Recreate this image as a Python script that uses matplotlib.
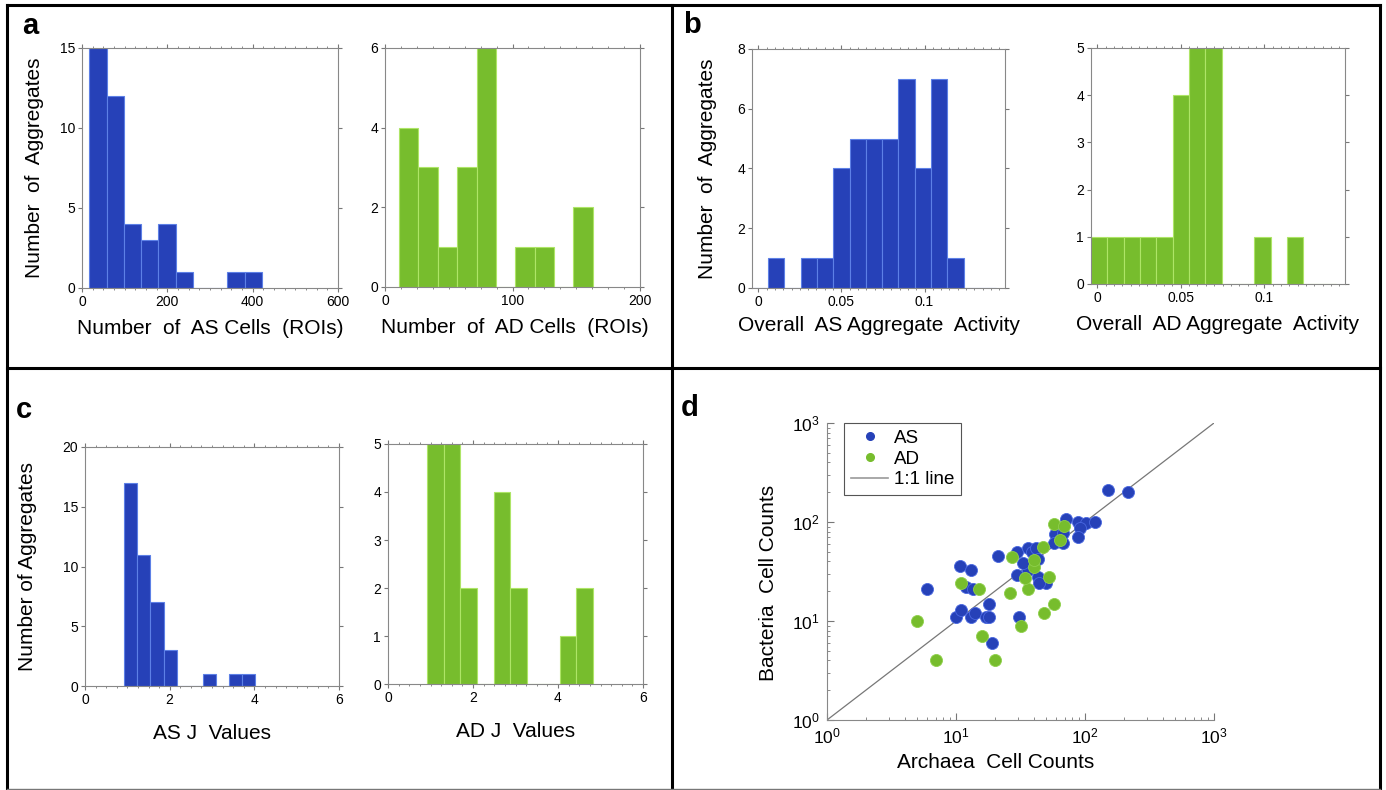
import numpy as np
import matplotlib.pyplot as plt
from matplotlib.lines import Line2D
from matplotlib.ticker import MultipleLocator

plt.rcParams['font.family'] = ['Liberation Sans', 'DejaVu Sans']
plt.rcParams['mathtext.fontset'] = 'custom'
plt.rcParams['mathtext.rm'] = 'Liberation Sans'

# histogram bins: left edge of first bin, bin width, counts
as_cells_start, as_cells_width = 17, 40.5
as_cells_counts = [15, 12, 4, 3, 4, 1, 0, 0, 1, 1]
ad_cells_start, ad_cells_width = 11, 15.2
ad_cells_counts = [4, 3, 1, 3, 6, 0, 1, 1, 0, 2]

as_act_start, as_act_width = -0.0039, 0.0098
as_act_counts = [0, 1, 0, 1, 1, 4, 5, 5, 5, 7, 4, 7, 1, 0, 0]
ad_act_start, ad_act_width = -0.0039, 0.0098
ad_act_counts = [1, 1, 1, 1, 1, 4, 5, 5, 0, 0, 1, 0, 1, 0, 0]

as_j_start, as_j_width = 0.925, 0.31
as_j_counts = [17, 11, 7, 3, 0, 0, 1, 0, 1, 1]
ad_j_start, ad_j_width = 0.925, 0.39
ad_j_counts = [5, 5, 2, 0, 4, 2, 0, 0, 1, 2]

# scatter (panel d): archaea vs bacteria cell counts per aggregate
as_archaea = [6, 10, 11, 13, 14, 12, 13.6, 18, 17, 18, 19, 31, 29.5, 36, 43, 50, 44, 29.5, 36, 38.6,
              41.7, 43, 33, 10.8, 13, 21, 150, 215, 71, 88, 102, 119, 91, 89, 59, 68, 57, 68]
as_bacteria = [21, 11, 13, 11, 12, 22, 21, 15, 11, 11, 6, 11, 29, 33, 28, 24, 24, 50, 55, 50,
               54, 42, 38.5, 36, 33, 45, 210, 200, 108, 100, 97, 100, 86, 70, 76, 77, 62, 61]
ad_archaea = [5, 7, 11, 15, 16, 20, 26, 32, 36, 48, 57, 34, 53, 40, 40, 27, 47, 57, 69, 64]
ad_bacteria = [10, 4, 24, 21, 7, 4, 19, 9, 21, 12, 15, 27, 28, 35, 41, 44, 56, 95, 92, 66]
one_to_one = [1, 1000]

BLUE, BLUE_EDGE = '#2641b8', '#5d80e6'
GREEN, GREEN_EDGE = '#77bd2d', '#aee567'
W, H = 1386, 790

fig = plt.figure(figsize=(W / 100, H / 100), dpi=100)


def px_axes(left, top, right, bottom):
    return fig.add_axes([left / W, 1 - bottom / H, (right - left) / W, (bottom - top) / H])


def hist(ax, start, width, counts, color, edge):
    lefts = start + width * np.arange(len(counts))
    ax.bar(lefts, counts, width=width, align='edge', color=color, edgecolor=edge, linewidth=0.8)


def style(ax, xlim, xticks, xlabels, ylim, yticks, xminor):
    ax.set_xlim(xlim)
    ax.set_ylim(ylim)
    ax.set_xticks(xticks)
    ax.set_xticklabels(xlabels)
    ax.set_yticks(yticks)
    ax.xaxis.set_minor_locator(MultipleLocator(xminor))
    ax.tick_params(which='both', direction='out', top=True, right=True, color='#777777',
                   labelcolor='black', labelsize=10, pad=2)
    ax.tick_params(which='major', length=3)
    ax.tick_params(which='minor', length=1.5)
    for s in ax.spines.values():
        s.set_color('#888888')
        s.set_linewidth(0.8)


LABEL = 15

# panel a
ax = px_axes(82, 48, 338, 288)
hist(ax, as_cells_start, as_cells_width, as_cells_counts, BLUE, BLUE_EDGE)
style(ax, (0, 600), [0, 200, 400, 600], ['0', '200', '400', '600'], (0, 15), [0, 5, 10, 15], 25)
ax.set_xlabel('Number  of  AS Cells  (ROIs)', fontsize=LABEL)
ax.xaxis.set_label_coords(0.5, -0.13)
ax.set_ylabel('Number  of  Aggregates', fontsize=LABEL)
ax.yaxis.set_label_coords(-0.15, 0.5)

ax = px_axes(385, 48, 640, 287)
hist(ax, ad_cells_start, ad_cells_width, ad_cells_counts, GREEN, GREEN_EDGE)
style(ax, (0, 200), [0, 100, 200], ['0', '100', '200'], (0, 6), [0, 2, 4, 6], 12.5)
ax.set_xlabel('Number  of  AD Cells  (ROIs)', fontsize=LABEL)
ax.xaxis.set_label_coords(0.51, -0.13)

# panel b
ax = px_axes(752, 49, 1005, 288)
hist(ax, as_act_start, as_act_width, as_act_counts, BLUE, BLUE_EDGE)
style(ax, (-0.0038, 0.1484), [0, 0.05, 0.1], ['0', '0.05', '0.1'], (0, 8), [0, 2, 4, 6, 8], 0.005)
ax.set_xlabel('Overall  AS Aggregate  Activity', fontsize=LABEL)
ax.xaxis.set_label_coords(0.5, -0.117)
ax.set_ylabel('Number  of  Aggregates', fontsize=LABEL)
ax.yaxis.set_label_coords(-0.138, 0.5)

ax = px_axes(1091, 48, 1345, 284)
hist(ax, ad_act_start, ad_act_width, ad_act_counts, GREEN, GREEN_EDGE)
style(ax, (-0.0038, 0.1484), [0, 0.05, 0.1], ['0', '0.05', '0.1'], (0, 5), [0, 1, 2, 3, 4, 5], 0.005)
ax.set_xlabel('Overall  AD Aggregate  Activity', fontsize=LABEL)
ax.xaxis.set_label_coords(0.5, -0.13)

# panel c
ax = px_axes(85, 447, 339, 686)
hist(ax, as_j_start, as_j_width, as_j_counts, BLUE, BLUE_EDGE)
style(ax, (0, 6), [0, 2, 4, 6], ['0', '2', '4', '6'], (0, 20), [0, 5, 10, 15, 20], 0.25)
ax.set_xlabel('AS J  Values', fontsize=LABEL)
ax.xaxis.set_label_coords(0.5, -0.16)
ax.set_ylabel('Number of Aggregates', fontsize=LABEL)
ax.yaxis.set_label_coords(-0.19, 0.5)

ax = px_axes(388, 444, 643, 684)
hist(ax, ad_j_start, ad_j_width, ad_j_counts, GREEN, GREEN_EDGE)
style(ax, (0, 6), [0, 2, 4, 6], ['0', '2', '4', '6'], (0, 5), [0, 1, 2, 3, 4, 5], 0.25)
ax.set_xlabel('AD J  Values', fontsize=LABEL)
ax.xaxis.set_label_coords(0.5, -0.16)

# panel d
ax = px_axes(827, 423, 1214, 720)
ax.plot(one_to_one, one_to_one, color='#777777', lw=0.9, zorder=2)
ax.scatter(as_archaea, as_bacteria, s=75, color=BLUE, edgecolor='#4a68e0', linewidth=0.6, zorder=3)
ax.scatter(ad_archaea, ad_bacteria, s=75, color=GREEN, edgecolor='#8fd04a', linewidth=0.6, zorder=4)
ax.set_xscale('log')
ax.set_yscale('log')
ax.set_xlim(1, 1000)
ax.set_ylim(1, 1000)
for side in ['top', 'right']:
    ax.spines[side].set_visible(False)
for s in ['left', 'bottom']:
    ax.spines[s].set_color('#888888')
    ax.spines[s].set_linewidth(0.8)
ax.tick_params(which='both', direction='in', color='#777777', labelsize=12.5, pad=5)
ax.tick_params(which='major', length=5)
ax.tick_params(which='minor', length=2.5)
ax.set_xlabel('Archaea  Cell Counts', fontsize=LABEL)
ax.xaxis.set_label_coords(0.435, -0.11)
ax.set_ylabel('Bacteria  Cell Counts', fontsize=LABEL)
ax.yaxis.set_label_coords(-0.127, 0.46)
handles = [
    Line2D([], [], ls='none', marker='o', ms=5.5, color=BLUE),
    Line2D([], [], ls='none', marker='o', ms=5.5, color=GREEN),
    Line2D([], [], color='#999999', lw=1.2),
]
leg = ax.legend(handles, ['AS', 'AD', '1:1 line'], loc='upper left', bbox_to_anchor=(0.045, 1.0),
                borderaxespad=0, fontsize=13.5, fancybox=False, framealpha=1, handlelength=2.0,
                handletextpad=0.3, labelspacing=0.2, borderpad=0.35)
leg.get_frame().set_edgecolor('#555555')
leg.get_frame().set_linewidth(0.8)

# panel letters
for letter, x, y in [('a', 30, 26), ('b', 692, 25), ('c', 24, 410), ('d', 690, 408)]:
    fig.text(x / W, 1 - y / H, letter, fontsize=21, fontweight='bold', ha='center', va='center')


# panel borders
def border(x0, y0, x1, y1, lw=2.2, color='black'):
    fig.add_artist(Line2D([x0 / W, x1 / W], [1 - y0 / H, 1 - y1 / H], color=color, lw=lw))


border(7, 5, 1380, 5)
border(7, 5, 7, 789)
border(1380, 5, 1380, 789)
border(672, 5, 672, 789)
border(7, 368, 1380, 368)
border(7, 789, 1380, 789, lw=1, color='#777777')

fig.savefig('out.png', dpi=100)
